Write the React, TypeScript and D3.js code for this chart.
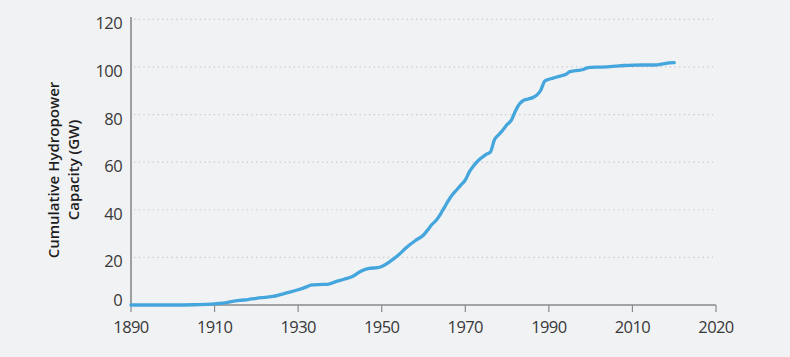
import React from "react";
import * as d3 from "d3";

const years = [1890, 1895, 1900, 1905, 1908, 1910, 1912, 1914, 1916, 1918, 1920, 1922, 1924, 1926, 1928, 1930, 1932, 1933, 1935, 1937, 1939, 1941, 1943, 1945, 1947, 1949, 1950, 1952, 1954, 1956, 1958, 1960, 1961, 1962, 1963, 1964, 1965, 1966, 1967, 1968, 1969, 1970, 1971, 1972, 1973, 1974, 1975, 1976, 1977, 1978, 1979, 1980, 1981, 1982, 1983, 1984, 1985, 1986, 1987, 1988, 1989, 1990, 1991, 1992, 1993, 1994, 1995, 1996, 1997, 1998, 1999, 2000, 2002, 2004, 2006, 2008, 2010, 2012, 2014, 2016, 2017, 2018, 2020];
const capacityGW = [0, 0, 0, 0.1, 0.3, 0.5, 0.8, 1.4, 1.9, 2.3, 2.8, 3.2, 3.6, 4.5, 5.4, 6.4, 7.6, 8.3, 8.6, 8.7, 9.8, 10.8, 12.0, 14.2, 15.4, 15.7, 16.2, 18.3, 21.0, 24.3, 27.0, 29.4, 31.5, 33.8, 35.5, 38.0, 41.0, 44.0, 46.5, 48.5, 50.5, 52.5, 56.0, 58.5, 60.5, 62.0, 63.3, 64.2, 69.5, 71.5, 73.5, 75.8, 77.5, 81.5, 84.5, 86.0, 86.5, 87.0, 88.0, 90.0, 94.0, 94.8, 95.3, 95.8, 96.3, 96.8, 98.0, 98.3, 98.5, 98.8, 99.5, 99.8, 99.9, 100.0, 100.3, 100.6, 100.7, 100.8, 100.8, 100.9, 101.2, 101.5, 101.8];
const xTickValues = [1890, 1910, 1930, 1950, 1970, 1990, 2010, 2030];
const xTickLabels = ["1890", "1910", "1930", "1950", "1970", "1990", "2010", "2020"];
const yTickValues = [0, 20, 40, 60, 80, 100, 120];
const yTitleLines = ["Cumulative Hydropower", "Capacity (GW)"];

const W = 790;
const H = 357;
const FONT = "'Open Sans', sans-serif";

export default function App() {
  const x = d3.scaleLinear().domain([1890, 2030]).range([131, 716]);
  const y = d3.scaleLinear().domain([0, 120]).range([305, 19.3]);
  const data = years.map((yr, i) => ({ yr, v: capacityGW[i] }));
  const line = d3
    .line<{ yr: number; v: number }>()
    .x((d) => x(d.yr))
    .y((d) => y(d.v))
    .curve(d3.curveMonotoneX);

  return (
    <svg
      width={W}
      height={H}
      style={{ position: "fixed", top: 0, left: 0, display: "block" }}
    >
      <rect x={0} y={0} width={W} height={H} fill="#f1f2f4" />
      {yTickValues
        .filter((t) => t > 0)
        .map((t) => (
          <line
            key={"g" + t}
            x1={x(1890) + 3}
            x2={713}
            y1={y(t)}
            y2={y(t)}
            stroke="#c4c6c9"
            strokeWidth={1.2}
            strokeDasharray="1.2 3.5"
          />
        ))}
      {yTickValues.map((t) => (
        <text
          key={"yl" + t}
          x={122}
          y={t === 0 ? y(t) + 1 : y(t) + 10}
          textAnchor="end"
          fontFamily={FONT}
          fontSize={16.5}
          letterSpacing={-0.6}
          fill="#383838"
        >
          {t}
        </text>
      ))}
      {xTickValues.map((t, i) => (
        <g key={"xt" + t}>
          <line x1={x(t)} x2={x(t)} y1={305} y2={312} stroke="#8a8a8a" strokeWidth={1.2} />
          <text
            x={x(t)}
            y={333}
            textAnchor="middle"
            fontFamily={FONT}
            fontSize={16.5}
            letterSpacing={-0.6}
            fill="#383838"
          >
            {xTickLabels[i]}
          </text>
        </g>
      ))}
      <line x1={131} x2={716} y1={305} y2={305} stroke="#8a8a8a" strokeWidth={1.6} />
      <line x1={131} x2={131} y1={17} y2={305} stroke="#8a8a8a" strokeWidth={1.6} />
      <path d={line(data) || ""} fill="none" stroke="#44a6dc" strokeWidth={3.3} strokeLinejoin="round" strokeLinecap="round" />
      <g transform="translate(0,170) rotate(-90)">
        {yTitleLines.map((s, i) => (
          <text
            key={s}
            x={0}
            y={59 + i * 20}
            textAnchor="middle"
            fontFamily={FONT}
            fontSize={15}
            fontWeight={600}
            fill="#1e1e1e"
          >
            {s}
          </text>
        ))}
      </g>
    </svg>
  );
}
